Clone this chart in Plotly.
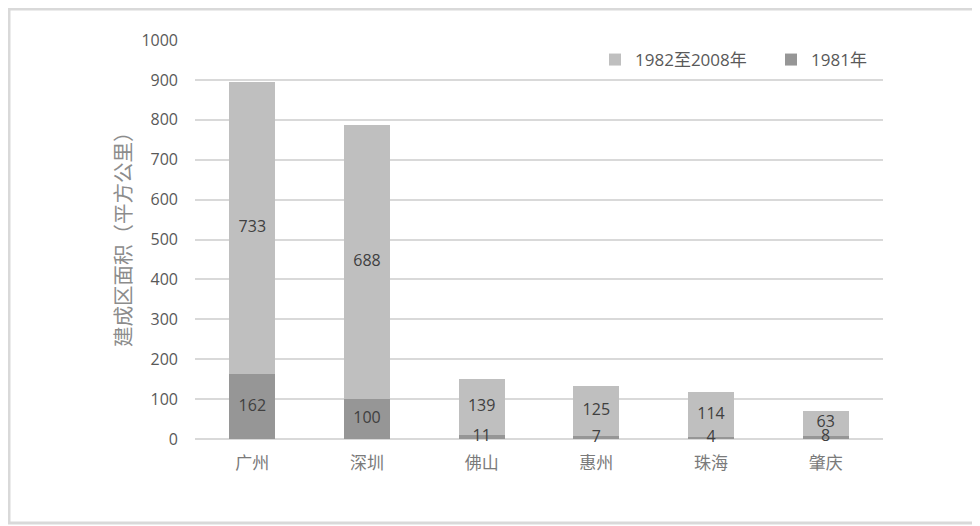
import plotly.graph_objects as go

cities = ["广州", "深圳", "佛山", "惠州", "珠海", "肇庆"]
area_1981 = [162, 100, 11, 7, 4, 8]
area_1982_2008 = [733, 688, 139, 125, 114, 63]
y_ticks = [0, 100, 200, 300, 400, 500, 600, 700, 800, 900, 1000]
y_title = "建成区面积（平方公里）"

c_dark = "#969696"
c_light = "#bfbfbf"
lab_font = dict(family="Open Sans, Noto Sans, sans-serif", size=16, color="#404040")

fig = go.Figure()
fig.add_trace(go.Bar(x=cities, y=area_1981, name="1981年", marker=dict(color=c_dark, line=dict(width=0)),
                     width=0.4))
fig.add_trace(go.Bar(x=cities, y=area_1982_2008, name="1982至2008年", marker=dict(color=c_light, line=dict(width=0)),
                     width=0.4))
# data labels, centred in each segment
fig.add_trace(go.Scatter(x=cities, y=[v / 2 for v in area_1981], mode="text",
                         text=[str(v) for v in area_1981], textfont=lab_font,
                         showlegend=False, hoverinfo="skip", cliponaxis=False))
fig.add_trace(go.Scatter(x=cities, y=[a + b / 2 for a, b in zip(area_1981, area_1982_2008)], mode="text",
                         text=[str(v) for v in area_1982_2008], textfont=lab_font,
                         showlegend=False, hoverinfo="skip", cliponaxis=False))

# page is drawn with an 8px body offset; size the figure to the remaining viewport
OFF = 8
W, H = 980 - OFF, 526 - OFF
L, T = 195 - OFF, 40 - OFF
R = W - (883 - OFF)
B = H - (439 - OFF)
pw, ph = W - L - R, H - T - B


def px_x(ref_x):
    return (ref_x - OFF - L) / pw


def px_y(ref_y):
    return (T + ph - (ref_y - OFF)) / ph


fig.update_layout(
    width=W, height=H,
    margin=dict(l=L, r=R, t=T, b=B),
    barmode="stack",
    bargap=0.6,
    plot_bgcolor="white", paper_bgcolor="white",
    font=dict(family="Open Sans, Noto Sans CJK SC, sans-serif", color="#595959"),
    xaxis=dict(showgrid=False, showline=False, ticks="",
               tickfont=dict(family="Noto Sans CJK SC", size=17, color="#7a7a7a"),
               ticklabelstandoff=12),
    yaxis=dict(range=[0, 1000], tickvals=y_ticks, showgrid=True, gridcolor="#d9d9d9", gridwidth=1.5,
               zeroline=True, zerolinecolor="#d9d9d9", zerolinewidth=1.5,
               tickfont=dict(family="Open Sans, sans-serif", size=16, color="#595959"),
               ticklabelstandoff=16),
    legend=dict(orientation="h", x=px_x(595), y=px_y(60), xanchor="left", yanchor="middle",
                traceorder="reversed", bgcolor="rgba(255,255,255,0)", entrywidth=131,
                font=dict(family="Open Sans, Noto Sans CJK SC, sans-serif", size=17, color="#595959")),
    showlegend=True,
    annotations=[dict(text=y_title, xref="paper", yref="paper", x=px_x(122), y=px_y(234),
                      xanchor="center", yanchor="middle", textangle=-90, showarrow=False,
                      font=dict(family="Noto Sans CJK SC", size=20.5, color="#8c8c8c"))],
    shapes=[dict(type="rect", xref="paper", yref="paper",
                 x0=px_x(9), x1=px_x(977),
                 y0=px_y(523), y1=px_y(9),
                 line=dict(color="#d9d9d9", width=3), layer="below")],
)

fig.write_html("out.html")
